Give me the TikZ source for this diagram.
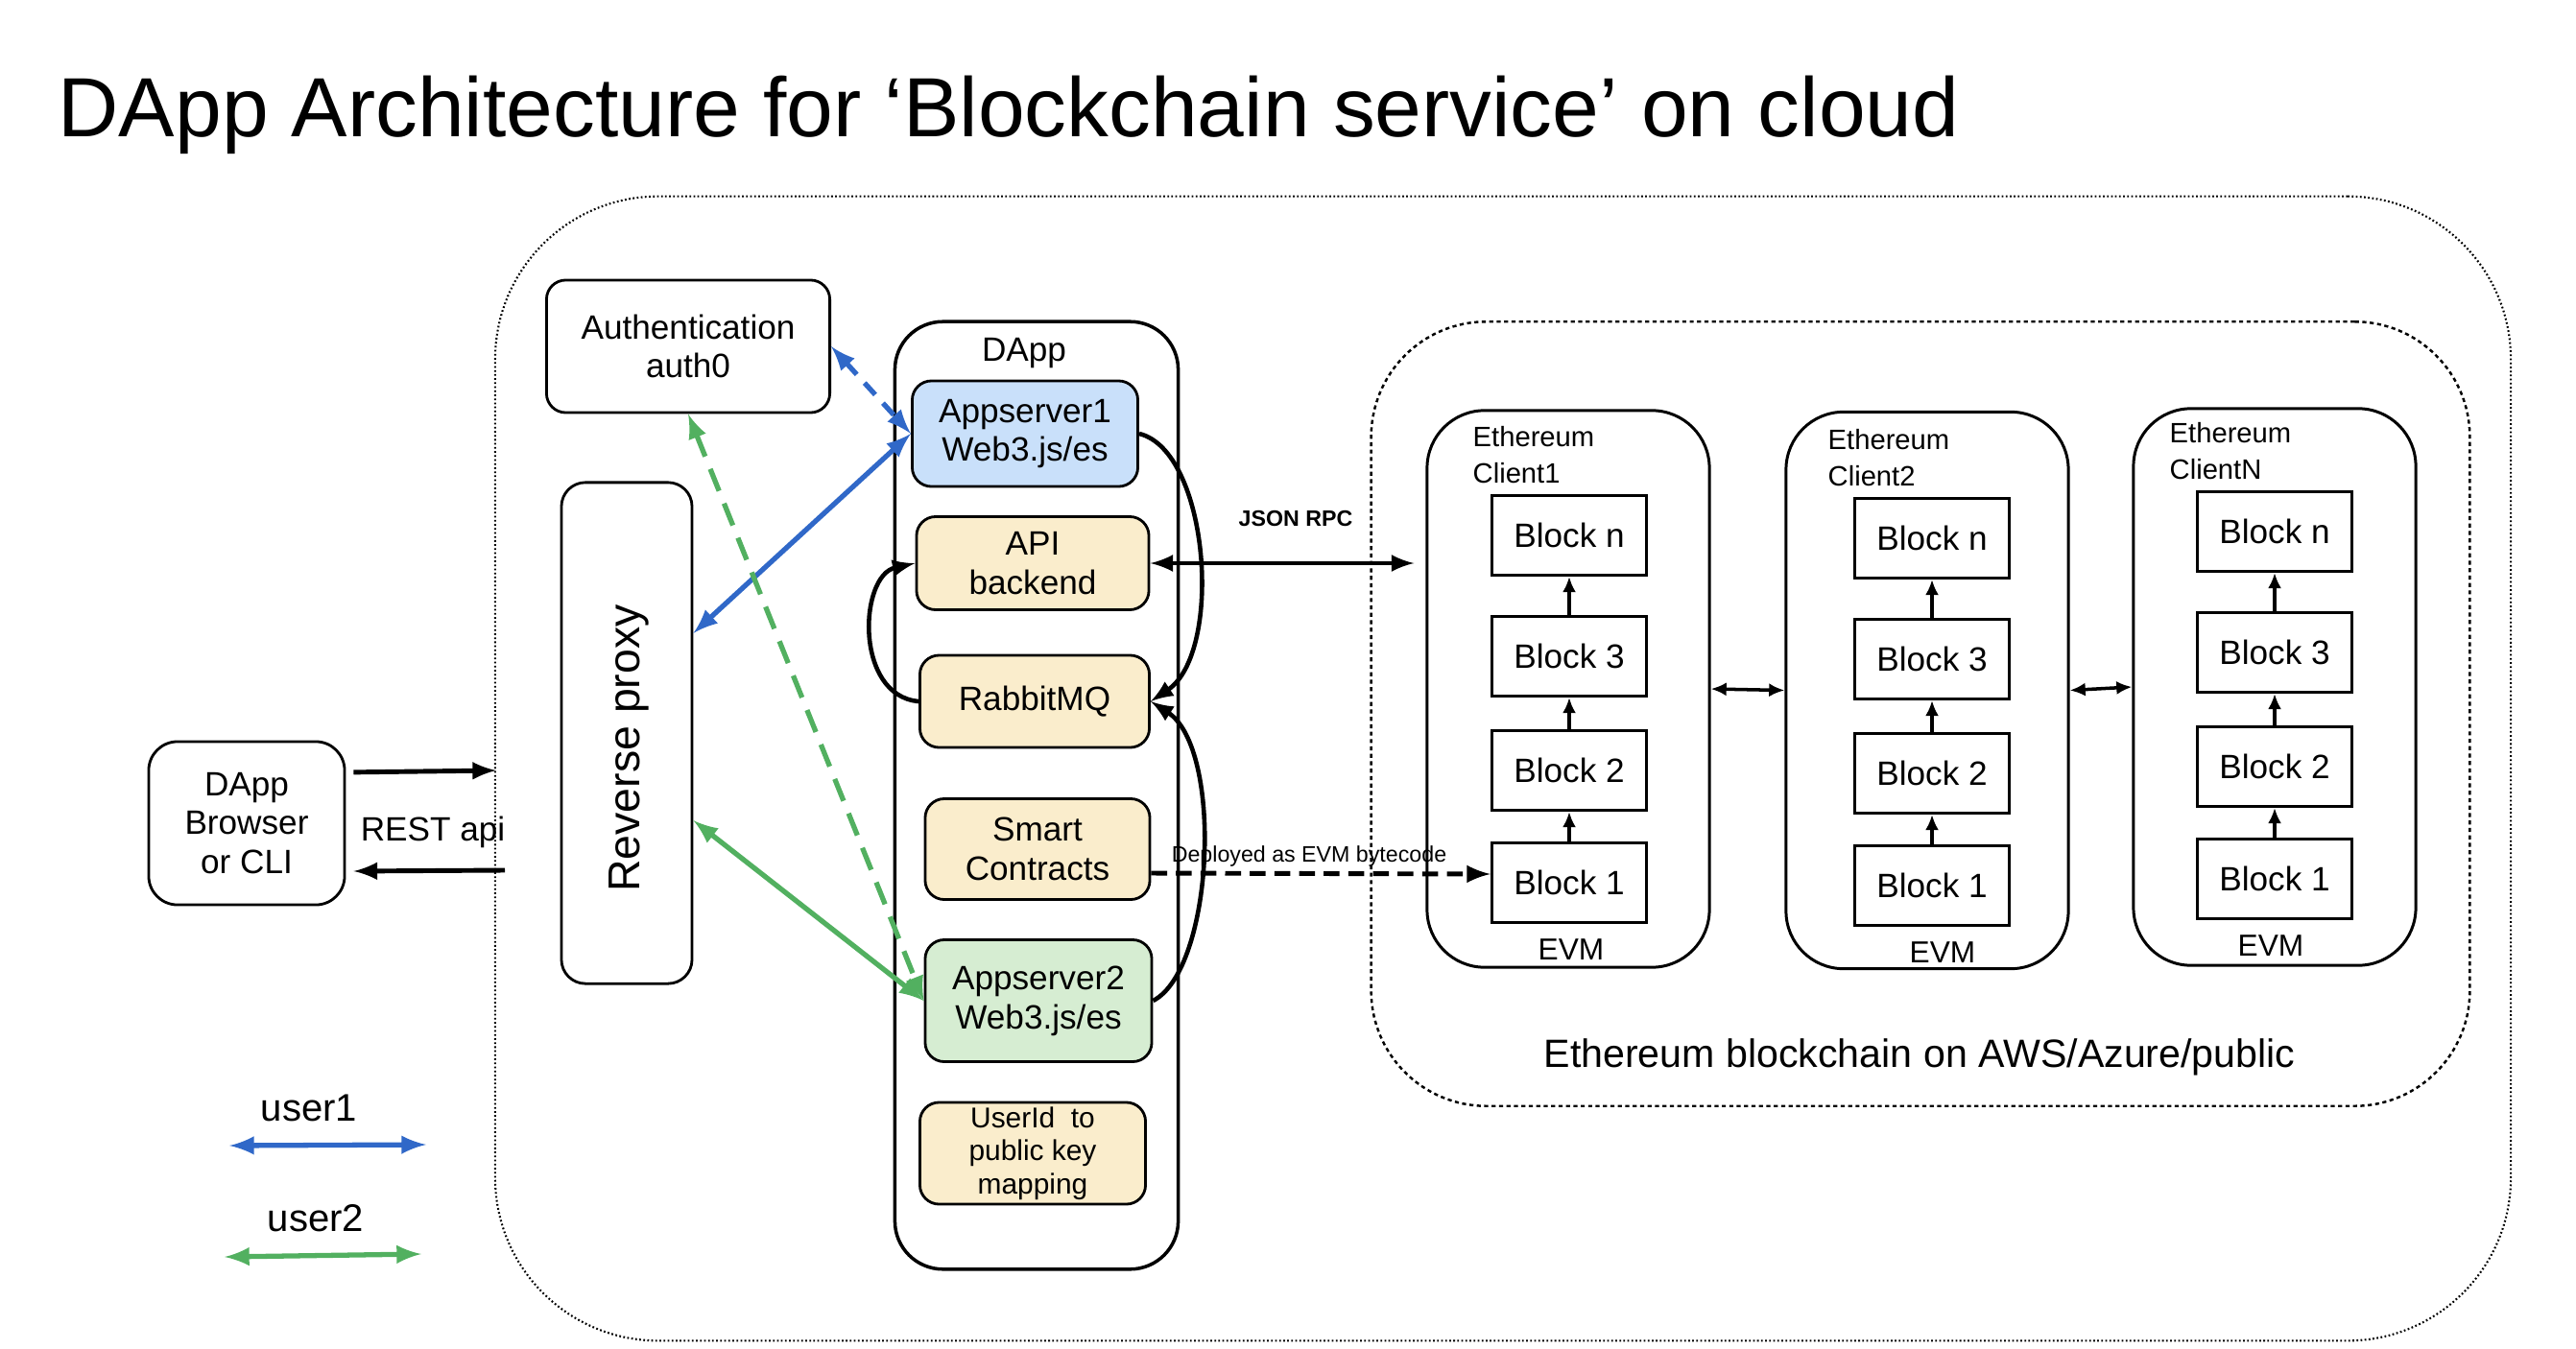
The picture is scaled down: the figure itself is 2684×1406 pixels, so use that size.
\documentclass[tikz,border=0pt]{standalone}
\usepackage{fontspec}
\setmainfont{Liberation Sans}
\usetikzlibrary{positioning,arrows.meta}
\usepgflibrary{arrows}
\definecolor{userblue}{RGB}{48,104,200}
\definecolor{usergreen}{RGB}{82,176,96}
\definecolor{appblue}{RGB}{201,224,250}
\definecolor{appgreen}{RGB}{214,237,210}
\definecolor{svcyellow}{RGB}{250,237,204}
\newcommand{\fsz}[2]{\fontsize{#1}{#2}\selectfont}

\begin{document}
\begin{tikzpicture}[x=0.01cm, y=-0.01cm, >=latex,
	box/.style={draw, line width=0.8pt, rounded corners=0.2cm, align=center, inner sep=0pt, font=\fsz{10}{11.6}},
	clientbox/.style={draw, line width=0.85pt, rounded corners=0.6cm, minimum width=2.94cm, minimum height=5.8cm},
	blockbox/.style={draw, line width=0.85pt, minimum width=1.61cm, minimum height=0.83cm, inner sep=0pt, font=\fsz{10}{12}},
	chainarrow/.style={-{Latex[length=4.6pt,width=4pt]}, line width=1pt},
	peerarrow/.style={{Latex[length=4.6pt,width=4pt]}-{Latex[length=4.6pt,width=4pt]}, line width=1pt},
	userone/.style={<->, userblue, line width=1.5pt},
	usertwo/.style={<->, usergreen, line width=1.5pt}]
	
	\useasboundingbox (0,0) rectangle (2684,1406);
	
	% Titel
	\node[anchor=base west, inner sep=0pt, font=\fsz{24.9}{30}] (title) at (60,142) {DApp Architecture for ‘Blockchain service’ on cloud};
	
	% Cloud und Blockchain
	\node[draw, dash pattern=on 0.5pt off 0.7pt, line width=0.6pt, rounded corners=1.7cm, minimum width=20.99cm, minimum height=11.92cm] (cloud) at (1566,801) {};
	\node[draw, dash pattern=on 1.2pt off 1pt, line width=0.7pt, rounded corners=1.2cm, minimum width=11.44cm, minimum height=8.17cm] (chain) at (2001,744) {};
	\node[font=\fsz{11.7}{14}] (chainlbl) at (2000,1102) {Ethereum blockchain on AWS/Azure/public};
	
	% linke Seite
	\node[box, rounded corners=0.3cm, minimum width=2.04cm, minimum height=1.70cm] (browser) at (257,858) {DApp\\Browser\\or CLI};
	\node[box, minimum width=2.95cm, minimum height=1.38cm] (auth) at (717,361) {Authentication\\auth0};
	\node[box, rounded corners=0.25cm, minimum width=1.36cm, minimum height=5.22cm] (proxy) at (653,764) {};
	\node[rotate=90, font=\fsz{13.2}{15}] (proxylbl) at (655,780) {Reverse proxy};
	
	% DApp
	\node[box, line width=1pt, rounded corners=0.5cm, minimum width=2.95cm, minimum height=9.87cm] (dapp) at (1080,829) {};
	\node[font=\fsz{10}{12}] (dapplbl) at (1067,368) {DApp};
	\node[box, fill=appblue, minimum width=2.35cm, minimum height=1.10cm] (app1) at (1068,452) {Appserver1\\Web3.js/es};
	\node[box, fill=svcyellow, minimum width=2.42cm, minimum height=0.97cm] (api) at (1076,587) {API\\backend};
	\node[box, fill=svcyellow, minimum width=2.39cm, minimum height=0.96cm] (rabbit) at (1078,731) {RabbitMQ};
	\node[box, fill=svcyellow, minimum width=2.34cm, minimum height=1.05cm] (smart) at (1081,885) {Smart\\Contracts};
	\node[box, fill=appgreen, minimum width=2.36cm, minimum height=1.27cm] (app2) at (1082,1043) {Appserver2\\Web3.js/es};
	\node[box, fill=svcyellow, font=\fsz{8.5}{9.8}, minimum width=2.35cm, minimum height=1.06cm] (keymap) at (1076,1202) {UserId\ \ to\\public key\\mapping};
	
	% Ethereum Clients
	\foreach \c/\cx/\bx/\dy/\lx/\ex in {1/1634/1635/0/1534/1637, 2/2008/2013/3/1904/2024, N/2370/2370/-4/2260/2366}{
		\node[clientbox] (c\c) at (\cx,{718+\dy/2}) {};
		\node[anchor=west, align=left, inner sep=0pt, font=\fsz{8.3}{10.6}] (c\c-lbl) at (\lx,{474+\dy}) {Ethereum\\Client\c};
		\foreach \b/\by in {n/558,3/684,2/803,1/920}
			\node[blockbox] (c\c-b\b) at (\bx,{\by+\dy}) {Block \b};
		\draw[chainarrow] (c\c-b1) -- (c\c-b2);
		\draw[chainarrow] (c\c-b2) -- (c\c-b3);
		\draw[chainarrow] (c\c-b3) -- (c\c-bn);
		\node[font=\fsz{9}{11}] (c\c-evm) at (\ex,{990+\dy}) {EVM};
	}
	\draw[peerarrow] (c1.east) -- (c2.west);
	\draw[peerarrow] (c2.east) -- (cN.west);
	
	% JSON RPC und Deployment
	\draw[<->, line width=1.3pt, shorten >=0.12cm] (api.east) -- (api.east -| c1.west);
	\node[font=\bfseries\fsz{6.6}{8}] (rpclbl) at (1350,541) {JSON RPC};
	\draw[->, line width=1.4pt, dash pattern=on 4.7pt off 2.6pt] ([yshift=-0.25cm]smart.east) -- ([yshift=0.09cm]c1-b1.west);
	\node[font=\fsz{6.6}{8}] (deploylbl) at (1364,892) {Deployed as EVM bytecode};
	
	% Boegen im DApp
	\draw[->, line width=1.3pt] (app1.east) .. controls (1260,470) and (1275,680) .. (rabbit.east);
	\draw[->, line width=1.3pt] (rabbit.west) .. controls (890,725) and (895,600) .. (api.west);
	\draw[->, line width=1.3pt] (app2.east) .. controls (1265,1010) and (1275,780) .. (rabbit.east);
	
	% user1 / user2
	\draw[userone, dash pattern=on 4.7pt off 3.4pt] (auth.east) -- (app1.west);
	\draw[userone] ([yshift=1.04cm]proxy.east) -- (app1.west);
	\draw[usertwo, dash pattern=on 7pt off 4pt] (auth.south) -- (app2.west);
	\draw[usertwo] ([yshift=-0.91cm]proxy.east) -- (app2.west);
	
	% REST api
	\coordinate (restin) at (517,803);
	\coordinate (restout) at (526,907);
	\draw[->, line width=1.4pt, shorten <=0.08cm] ([yshift=0.53cm]browser.east) -- (restin);
	\draw[->, line width=1.4pt, shorten >=0.08cm] (restout) -- ([yshift=-0.5cm]browser.east);
	\node[font=\fsz{10}{12}] (restlbl) at (451,867) {REST api};
	
	% Legende
	\node[font=\fsz{11.4}{13}] (user1) at (322,1155) {user1};
	\node[font=\fsz{11.4}{13}] (user2) at (329,1270) {user2};
	\coordinate (u1l) at (239,1194);
	\coordinate (u1r) at (444,1193);
	\coordinate (u2l) at (234,1310);
	\coordinate (u2r) at (439,1307);
	\draw[userone] (u1l) -- (u1r);
	\draw[usertwo] (u2l) -- (u2r);
\end{tikzpicture}
\end{document}
